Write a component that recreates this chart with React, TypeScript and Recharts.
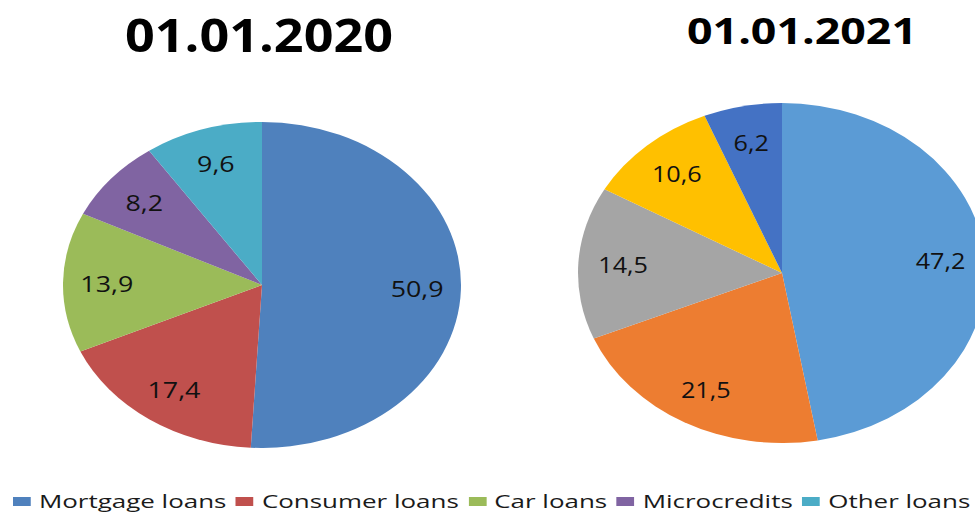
import { PieChart, Pie, Cell } from "recharts";

const categories = ["Mortgage loans", "Consumer loans", "Car loans", "Microcredits", "Other loans"];
const values2020 = [50.9, 17.4, 13.9, 8.2, 9.6];
const values2021 = [47.2, 21.5, 14.5, 10.6, 6.2];
const colors2020 = ["#4f81bd", "#c0504d", "#9bbb59", "#8064a2", "#4bacc6"];
const colors2021 = ["#5b9bd5", "#ed7d31", "#a5a5a5", "#ffc000", "#4472c4"];
const titles = ["01.01.2020", "01.01.2021"];

const RAD = Math.PI / 180;

// labels inside the slices, decimal comma
const makeLabel = (fontSize: number) => (p: any) => {
  const r = p.outerRadius * 0.78;
  const x = p.cx + r * Math.cos(-p.midAngle * RAD);
  const y = p.cy + r * Math.sin(-p.midAngle * RAD);
  return (
    <text
      x={x}
      y={y}
      fill="#111"
      textAnchor="middle"
      dominantBaseline="central"
      fontSize={fontSize}
      fontFamily="'Open Sans', sans-serif"
    >
      {String(p.value).replace(".", ",")}
    </text>
  );
};

type PieProps = {
  values: number[];
  colors: string[];
  left: number;
  top: number;
  size: number;
  radius: number;
  stretch: number;
  fontSize: number;
};

const StretchedPie = ({ values, colors, left, top, size, radius, stretch, fontSize }: PieProps) => {
  const data = categories.map((name, i) => ({ name, value: values[i] }));
  return (
    <div
      style={{
        position: "absolute",
        left,
        top,
        width: size,
        height: size,
        transform: `scaleX(${stretch})`,
        transformOrigin: `${size / 2}px ${size / 2}px`,
      }}
    >
      <PieChart width={size} height={size} margin={{ top: 0, right: 0, bottom: 0, left: 0 }}>
        <Pie
          data={data}
          dataKey="value"
          cx={size / 2}
          cy={size / 2}
          outerRadius={radius}
          startAngle={90}
          endAngle={-270}
          stroke="none"
          labelLine={false}
          label={makeLabel(fontSize)}
          isAnimationActive={false}
        >
          {data.map((d, i) => (
            <Cell key={d.name} fill={colors[i]} />
          ))}
        </Pie>
      </PieChart>
    </div>
  );
};

export default function App() {
  return (
    <div
      style={{
        position: "absolute",
        left: 0,
        top: 0,
        width: 975,
        height: 513,
        overflow: "hidden",
        background: "#fff",
        fontFamily: "'Open Sans', sans-serif",
      }}
    >
      <svg width={975} height={70} style={{ position: "absolute", left: 0, top: 0 }}>
        <text
          x={259}
          y={52}
          textAnchor="middle"
          fontSize={47}
          fontWeight="bold"
          fontFamily="'Open Sans', sans-serif"
          textLength={268}
          lengthAdjust="spacingAndGlyphs"
          fill="#000"
        >
          {titles[0]}
        </text>
        <text
          x={802}
          y={44}
          textAnchor="middle"
          fontSize={36}
          fontWeight="bold"
          fontFamily="'Open Sans', sans-serif"
          textLength={230}
          lengthAdjust="spacingAndGlyphs"
          fill="#000"
        >
          {titles[1]}
        </text>
      </svg>

      <StretchedPie values={values2020} colors={colors2020} left={262 - 175} top={285 - 175} size={350} radius={163} stretch={199 / 163} fontSize={22} />
      <StretchedPie values={values2021} colors={colors2021} left={782 - 185} top={273 - 185} size={370} radius={170} stretch={204 / 170} fontSize={21} />

      <div
        style={{
          position: "absolute",
          left: 13,
          top: 488,
          display: "flex",
          alignItems: "center",
          whiteSpace: "nowrap",
          transform: "scaleX(1.365)",
          transformOrigin: "0 50%",
          fontSize: 19,
          color: "#1a1a1a",
        }}
      >
        {categories.map((c, i) => (
          <div key={c} style={{ display: "flex", alignItems: "center", marginRight: 7 }}>
            <span style={{ display: "inline-block", width: 13, height: 9, background: colors2020[i], marginRight: 6 }} />
            <span>{c}</span>
          </div>
        ))}
      </div>
    </div>
  );
}
